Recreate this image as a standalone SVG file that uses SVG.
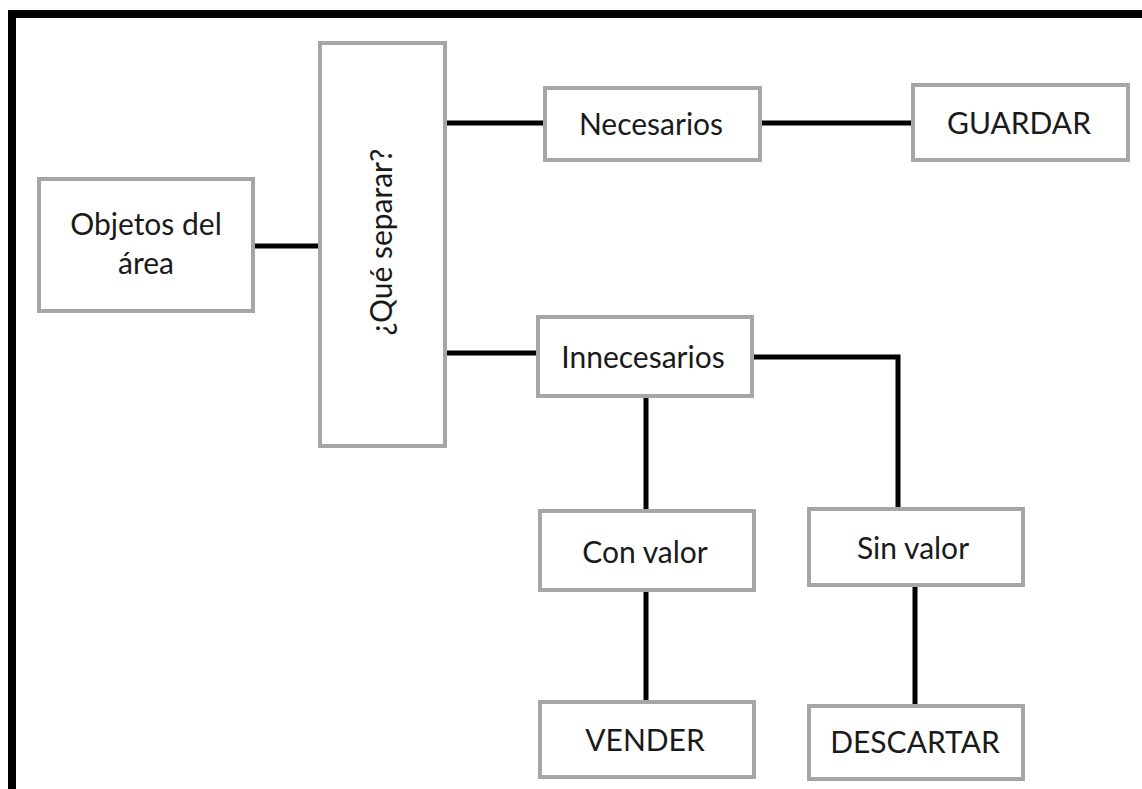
<svg xmlns="http://www.w3.org/2000/svg" width="1142" height="789" viewBox="0 0 1142 789">
<style>
.box{fill:#ffffff;stroke:#a6a6a6;stroke-width:4}
.lbl{font-family:Lato,"Open Sans",sans-serif;font-size:30px;fill:#1a1a1a;text-anchor:middle}
.con{fill:none;stroke:#000000;stroke-width:5}
</style>
<rect x="0" y="0" width="1142" height="789" fill="#ffffff"/>
<path d="M12,795 V14 H1150" fill="none" stroke="#000000" stroke-width="8"/>
<g id="connectors">
<line class="con" x1="255" y1="246" x2="320" y2="246"/>
<line class="con" x1="445" y1="123" x2="545" y2="123"/>
<line class="con" x1="760" y1="123" x2="913" y2="123"/>
<line class="con" x1="445" y1="353" x2="538" y2="353"/>
<path class="con" d="M752,357 H898 V509"/>
<line class="con" x1="646" y1="396" x2="646" y2="511"/>
<line class="con" x1="646" y1="590" x2="646" y2="702"/>
<line class="con" x1="915" y1="585" x2="915" y2="706"/>
</g>
<g id="objetos">
<rect class="box" x="39" y="179" width="214" height="132"/>
<text class="lbl" x="146" y="235">Objetos del</text>
<text class="lbl" x="146" y="274">área</text>
</g>
<g id="que-separar">
<rect class="box" x="320" y="43" width="125" height="403"/>
<text class="lbl" transform="translate(392,242) rotate(-90)" x="0" y="0">¿Qué separar?</text>
</g>
<g id="necesarios">
<rect class="box" x="545" y="88" width="215" height="72"/>
<text class="lbl" x="651" y="135">Necesarios</text>
</g>
<g id="guardar">
<rect class="box" x="913" y="85" width="215" height="75"/>
<text class="lbl" x="1019" y="134">GUARDAR</text>
</g>
<g id="innecesarios">
<rect class="box" x="538" y="317" width="214" height="79"/>
<text class="lbl" x="643" y="368">Innecesarios</text>
</g>
<g id="con-valor">
<rect class="box" x="540" y="511" width="214" height="79"/>
<text class="lbl" x="645" y="563">Con valor</text>
</g>
<g id="sin-valor">
<rect class="box" x="809" y="509" width="214" height="76"/>
<text class="lbl" x="913" y="559">Sin valor</text>
</g>
<g id="vender">
<rect class="box" x="540" y="702" width="214" height="75"/>
<text class="lbl" x="645" y="751">VENDER</text>
</g>
<g id="descartar">
<rect class="box" x="809" y="706" width="214" height="73"/>
<text class="lbl" x="915" y="753">DESCARTAR</text>
</g>
</svg>
